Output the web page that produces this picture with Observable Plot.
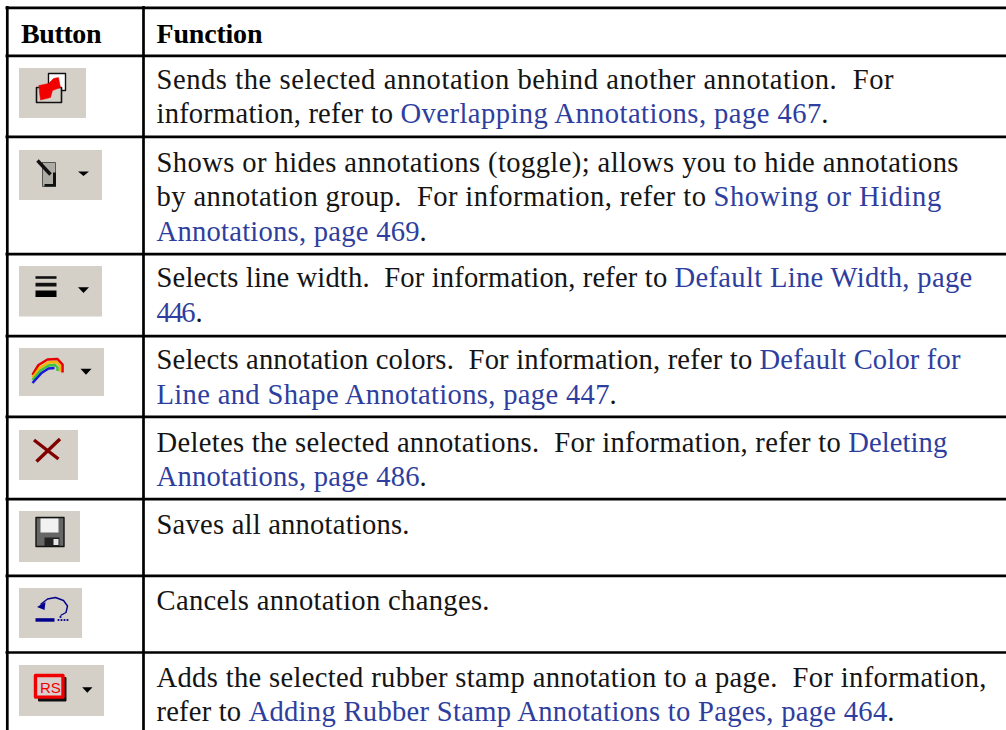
<!DOCTYPE html>
<html><head><meta charset="utf-8">
<script src="https://cdn.jsdelivr.net/npm/d3@7"></script>
<script src="https://cdn.jsdelivr.net/npm/@observablehq/plot@0.6"></script>
<style>html,body{margin:0;padding:0;background:#fff}</style>
</head><body><div id="chart"></div>
<script>
const headers = ["Button", "Function"];
// each line: alternating plain, link, plain, ...
const functionLines = [
  ["Sends the selected annotation behind another annotation.  For"],
  ["information, refer to ", "Overlapping Annotations, page 467", "."],
  ["Shows or hides annotations (toggle); allows you to hide annotations"],
  ["by annotation group.  For information, refer to ", "Showing or Hiding"],
  ["", "Annotations, page 469", "."],
  ["Selects line width.  For information, refer to ", "Default Line Width, page"],
  ["", "446", "."],
  ["Selects annotation colors.  For information, refer to ", "Default Color for"],
  ["", "Line and Shape Annotations, page 447", "."],
  ["Deletes the selected annotations.  For information, refer to ", "Deleting"],
  ["", "Annotations, page 486", "."],
  ["Saves all annotations."],
  ["Cancels annotation changes."],
  ["Adds the selected rubber stamp annotation to a page.  For information,"],
  ["refer to ", "Adding Rubber Stamp Annotations to Pages, page 464", "."]
];
// layout of the table
const rowRules = [7.3, 55.3, 136.3, 253.7, 335.7, 416.3, 498.7, 575.3, 652];
const colRules = [6.8, 143];
const baselines = [88.3, 122.4, 171.5, 205, 240, 286.8, 321.8, 368.3, 403.3, 451.5, 485, 533.3, 609.3, 686, 720];
const segmentStops = [
  [156,893], [156,400,820.7,826.7], [156,958], [156,713,940.7], [156,419,425],
  [156,674,971.7], [156,195,200.7], [156,759,960], [156,609,615], [156,847.7,946.7],
  [156,419,425], [156,409], [156,489], [156,986], [156,248,886.7,893]
];
const headerStops = [[20.5,101],[156,262]];
const iconBoxes = [[19,86,68,118],[19,102,150,200],[19,102,266,316.5],[19,104,348,396],[19,78,430,480],[19,80,511,562],[19,82,588,638],[19,104,665,716]];

const polys = [
  {pts:[[48,73],[65,73],[65,90],[48,90]], fill:"#fff", stroke:"#111", sw:1.4},
  {pts:[[36,87],[61,87],[61,102],[36,102]], fill:"#d4d0c8", stroke:"#111", sw:1.6},
  {pts:[[38.5,85],[48,83],[53,78],[58,77],[60,87],[52,90],[50,97],[40,99.5],[39,92]], fill:"#f20000", stroke:"#f20000", sw:.5},
  {pts:[[42,162],[55,162],[55,186],[42,186]], fill:"#aeaba5", stroke:"#555", sw:1},
  {pts:[[52.5,172],[55.5,172],[55.5,186],[44,186],[44,183.5],[52.5,183.5]], fill:"#111", stroke:"none", sw:0},
  {pts:[[77.5,171],[88.5,171],[83,175.5]], fill:"#000", stroke:"none", sw:0},
  {pts:[[35,275.7],[56,275.7],[56,278.3],[35,278.3]], fill:"#111", stroke:"none", sw:0},
  {pts:[[35,282.3],[56,282.3],[56,286],[35,286]], fill:"#111", stroke:"none", sw:0},
  {pts:[[35,290],[56,290],[56,296.5],[35,296.5]], fill:"#000", stroke:"none", sw:0},
  {pts:[[77.5,286.7],[88.5,286.7],[83,292.5]], fill:"#000", stroke:"none", sw:0},
  {pts:[[80,368.3],[91,368.3],[85.5,374.3]], fill:"#000", stroke:"none", sw:0},
  {pts:[[35.5,517],[63.5,517],[63.5,546],[35.5,546]], fill:"#666", stroke:"#111", sw:1.4},
  {pts:[[40,518],[58,518],[58,532],[40,532]], fill:"#f2f2f2", stroke:"none", sw:0},
  {pts:[[44,537],[59,537],[59,545.5],[44,545.5]], fill:"#222", stroke:"none", sw:0},
  {pts:[[53,538.5],[58,538.5],[58,544.5],[53,544.5]], fill:"#e6e6e6", stroke:"none", sw:0},
  {pts:[[35,617.7],[54,617.7],[54,621.2],[35,621.2]], fill:"#00008b", stroke:"none", sw:0},
  {pts:[[36.5,606.5],[45,601.5],[44,609.5]], fill:"#00008b", stroke:"none", sw:0},
  {pts:[[81.7,686.7],[92,686.7],[86.8,692.2]], fill:"#000", stroke:"none", sw:0},
  {pts:[[38,677],[65.5,677],[65.5,700.5],[38,700.5]], fill:"#111", stroke:"#111", sw:1},
  {pts:[[35,675],[62.5,675],[62.5,696.6],[35,696.6]], fill:"#d9cfcf", stroke:"#f00000", sw:3.4}
];
const strokes = [
  {pts:[[32,374.5],[38,364.5],[47,359],[57,358.5],[62,364],[62,372]], c:"#e60000", sw:2.6},
  {pts:[[32,377],[39,367.5],[48,362],[56,361.5],[59.5,365],[59.5,371]], c:"#f5b400", sw:2.4},
  {pts:[[32,379.5],[40,370],[48,365],[54.5,364.5],[57,367],[57,370.5]], c:"#3cc43c", sw:2.4},
  {pts:[[32,382.5],[41,372.5],[48,368],[54,367.5]], c:"#1818d8", sw:2.6},
  {pts:[[33.5,439.5],[58,458.5]], c:"#800000", sw:3.4},
  {pts:[[59.5,438.5],[36,461]], c:"#800000", sw:3.4},
  {pts:[[37,160],[50,174]], c:"#111", sw:3.4},
  {pts:[[40,604],[47,598.5],[55,597],[63,600],[67,605.5],[65.5,612],[60,615]], c:"#00008b", sw:1.4}
];
const dots = [[58,619.5],[61,619.5],[64,619.5],[67,619.5],[60,616.5]];
const stampText = [{t:"RS", x:49.8, y:687.2}];

const FONT = "Liberation Serif", SIZE = 28.6, TEXT = "#141414", LINK = "#2e3e9e";

const segments = [];
functionLines.forEach((parts, l) => {
  const stops = segmentStops[l];
  let k = 0;
  parts.forEach((t, i) => {
    if (!t) return;
    segments.push({t, x: stops[k], y: baselines[l], len: stops[k + 1] - stops[k], link: i % 2 === 1});
    k++;
  });
});
const headerCells = headers.map((t, i) => ({t, x: headerStops[i][0], y: 42, len: headerStops[i][1] - headerStops[i][0]}));
const X = d => d[0], Y = d => d[1];

const fit = rows => (index, scales, values, dims, ctx, next) => {
  const g = next(index, scales, values, dims, ctx);
  g.querySelectorAll("text").forEach((n, j) => {
    n.setAttribute("textLength", rows[index[j]].len);
    n.setAttribute("lengthAdjust", "spacing");
  });
  return g;
};

const plot = Plot.plot({
  width: 1006, height: 730,
  marginTop: 0, marginRight: 0, marginBottom: 0, marginLeft: 0,
  x: {domain: [0, 1006], range: [0, 1006], axis: null},
  y: {domain: [0, 730], range: [0, 730], axis: null},
  style: {background: "#fff"},
  marks: [
    Plot.rect(iconBoxes, {x1: d => d[0], x2: d => d[1], y1: d => d[2], y2: d => d[3], fill: "#d4d0c8"}),
    ...polys.map(p => Plot.line([...p.pts, p.pts[0]], {x: X, y: Y, fill: p.fill, stroke: p.stroke, strokeWidth: p.sw, strokeLinejoin: "round", curve: "linear"})),
    ...strokes.map(s => Plot.line(s.pts, {x: X, y: Y, stroke: s.c, strokeWidth: s.sw, curve: "linear", strokeLinecap: "butt"})),
    Plot.dot(dots, {x: X, y: Y, r: 1.1, fill: "#00008b"}),
    Plot.text(stampText, {x: "x", y: "y", text: "t", fontSize: 15, fontFamily: "Liberation Sans", fill: "#f00000", lineAnchor: "middle", textAnchor: "middle"}),
    Plot.ruleY(rowRules, {x1: 5.5, x2: 1006, stroke: "#000", strokeWidth: 2.7}),
    Plot.ruleX(colRules, {y1: 6, y2: 730, stroke: "#000", strokeWidth: 2.7}),
    Plot.text(headerCells, {x: "x", y: "y", text: "t", fontFamily: FONT, fontSize: 28, fontWeight: "bold", fill: "#000", textAnchor: "start", lineAnchor: "bottom", render: fit(headerCells)}),
    Plot.text(segments, {x: "x", y: "y", text: "t", fontFamily: FONT, fontSize: SIZE, fill: d => d.link ? LINK : TEXT, textAnchor: "start", lineAnchor: "bottom", render: fit(segments)})
  ]
});
document.getElementById("chart").appendChild(plot);
</script></body></html>
